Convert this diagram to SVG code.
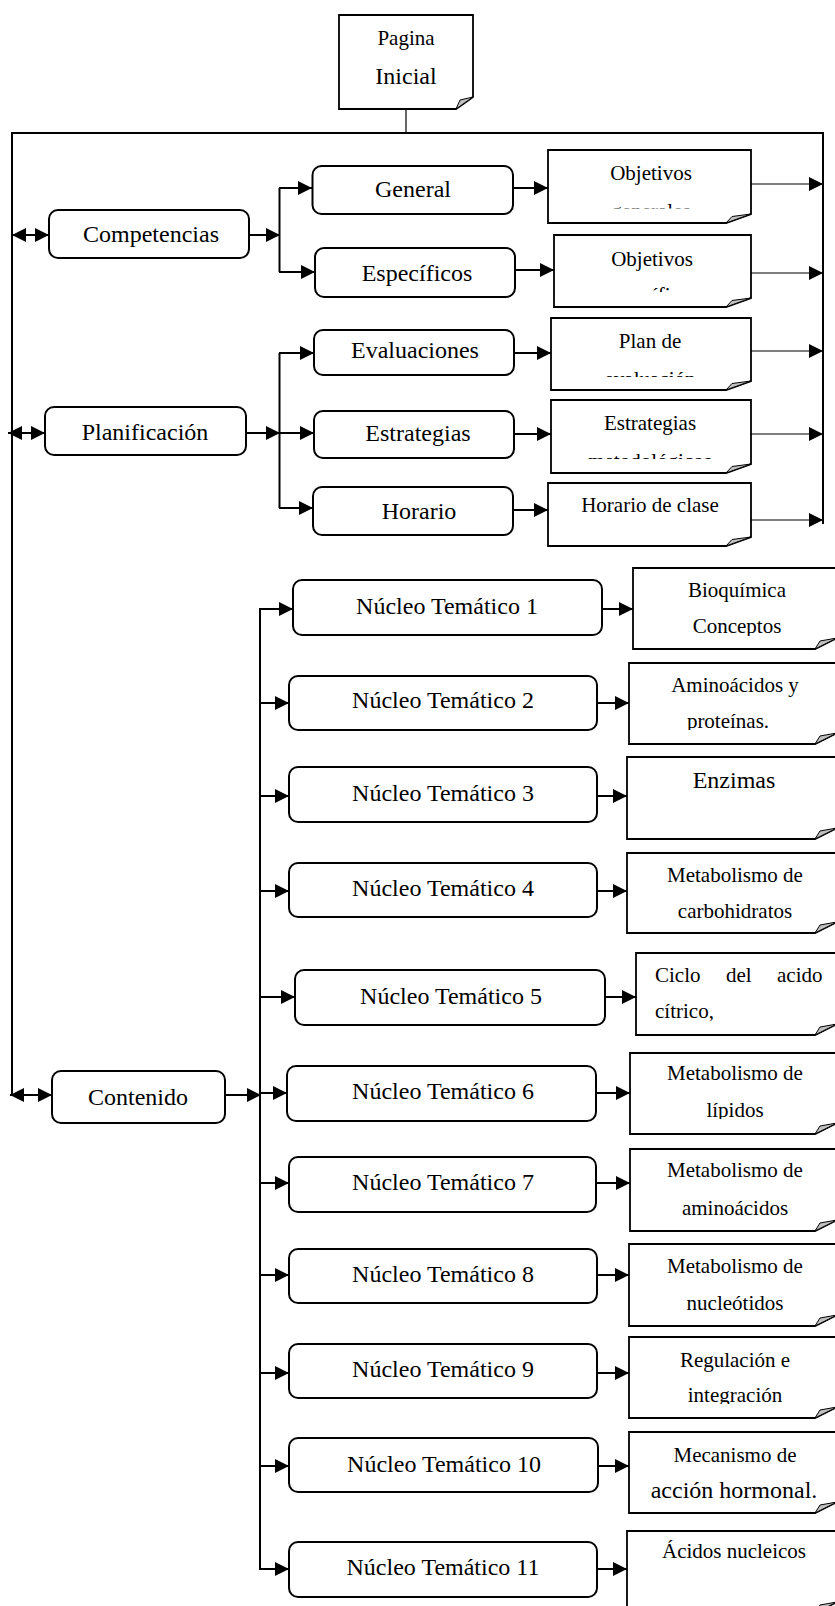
<svg xmlns="http://www.w3.org/2000/svg" width="835" height="1606" viewBox="0 0 835 1606">
<style>
.box{fill:#fff;stroke:#000;stroke-width:2}
.note{fill:#fff;stroke:#000;stroke-width:1.8;stroke-linejoin:miter}
.fold{fill:#c0c0c0;stroke:#000;stroke-width:1}
.ln{fill:none;stroke:#000;stroke-width:2}
.thin{fill:none;stroke:#000;stroke-width:1.2}
.arr{marker-end:url(#ah)}
.dbl{marker-start:url(#ahs);marker-end:url(#ah)}
text{font-family:"Liberation Serif","Times New Roman",serif;fill:#000;text-anchor:middle}
.t24{font-size:24px}
.t21{font-size:21px}
</style>
<defs>
<marker id="ah" viewBox="0 0 14 14" refX="14" refY="7" markerWidth="14" markerHeight="14" markerUnits="userSpaceOnUse" orient="auto"><path d="M0,0 L14,7 L0,14 Z" fill="#000"/></marker>
<marker id="ahs" viewBox="0 0 14 14" refX="14" refY="7" markerWidth="14" markerHeight="14" markerUnits="userSpaceOnUse" orient="auto-start-reverse"><path d="M0,0 L14,7 L0,14 Z" fill="#000"/></marker>
<clipPath id="cGen"><rect x="540" y="150" width="220" height="58.5"/></clipPath>
<clipPath id="cEsp"><rect x="540" y="235" width="220" height="57"/></clipPath>
<clipPath id="cEva"><rect x="540" y="318" width="220" height="59"/></clipPath>
<clipPath id="cMet"><rect x="540" y="400" width="220" height="59"/></clipPath>
<clipPath id="c1"><rect x="620" y="568" width="220" height="68"/></clipPath>
<clipPath id="c2"><rect x="620" y="663" width="220" height="67"/></clipPath>
<clipPath id="c5"><rect x="620" y="953" width="220" height="68"/></clipPath>
<clipPath id="c6"><rect x="620" y="1053" width="220" height="66"/></clipPath>
<clipPath id="c9"><rect x="620" y="1337" width="220" height="67"/></clipPath>
<clipPath id="c10"><rect x="620" y="1432" width="220" height="67.5"/></clipPath>
</defs>
<rect width="835" height="1606" fill="#fff"/>

<g id="connectors">
<path class="ln" d="M12,1095 V133 H823 V524"/>
<line class="thin" x1="406" y1="109" x2="406" y2="133"/>
<line class="ln dbl" x1="12" y1="235" x2="49" y2="235"/>
<line class="ln dbl" x1="8" y1="433" x2="45" y2="433"/>
<line class="ln dbl" x1="10" y1="1095" x2="52" y2="1095"/>
<line class="ln arr" x1="249" y1="235" x2="280" y2="235"/>
<line class="ln" x1="279.5" y1="188" x2="279.5" y2="272"/>
<line class="ln arr" x1="279" y1="188" x2="312" y2="188"/>
<line class="ln arr" x1="279" y1="272" x2="315" y2="272"/>
<line class="ln arr" x1="513" y1="188" x2="548" y2="188"/>
<line class="ln arr" x1="515" y1="270" x2="554" y2="270"/>
<line class="thin arr" x1="751" y1="184" x2="823" y2="184"/>
<line class="thin arr" x1="751" y1="273" x2="823" y2="273"/>
<line class="ln arr" x1="246" y1="433" x2="280" y2="433"/>
<line class="ln" x1="279.5" y1="353" x2="279.5" y2="508"/>
<line class="ln arr" x1="279" y1="353" x2="314" y2="353"/>
<line class="ln arr" x1="279" y1="433" x2="314" y2="433"/>
<line class="ln arr" x1="279" y1="508" x2="313" y2="508"/>
<line class="ln arr" x1="514" y1="353" x2="551" y2="353"/>
<line class="ln arr" x1="514" y1="434" x2="551" y2="434"/>
<line class="ln arr" x1="513" y1="510" x2="548" y2="510"/>
<line class="thin arr" x1="751" y1="351" x2="823" y2="351"/>
<line class="thin arr" x1="751" y1="434" x2="823" y2="434"/>
<line class="thin arr" x1="751" y1="520" x2="823" y2="520"/>
<line class="ln arr" x1="225" y1="1095" x2="261" y2="1095"/>
<line class="ln" x1="260" y1="609" x2="260" y2="1569"/>
<line class="ln arr" x1="259" y1="609" x2="293" y2="609"/>
<line class="ln arr" x1="259" y1="703" x2="289" y2="703"/>
<line class="ln arr" x1="259" y1="796" x2="289" y2="796"/>
<line class="ln arr" x1="259" y1="891" x2="289" y2="891"/>
<line class="ln arr" x1="259" y1="997" x2="295" y2="997"/>
<line class="ln arr" x1="259" y1="1093" x2="287" y2="1093"/>
<line class="ln arr" x1="259" y1="1183" x2="289" y2="1183"/>
<line class="ln arr" x1="259" y1="1275" x2="289" y2="1275"/>
<line class="ln arr" x1="259" y1="1373" x2="289" y2="1373"/>
<line class="ln arr" x1="259" y1="1466" x2="289" y2="1466"/>
<line class="ln arr" x1="259" y1="1569" x2="289" y2="1569"/>
<line class="ln arr" x1="602" y1="609" x2="633" y2="609"/>
<line class="ln arr" x1="597" y1="703" x2="629" y2="703"/>
<line class="ln arr" x1="597" y1="796" x2="627" y2="796"/>
<line class="ln arr" x1="597" y1="891" x2="627" y2="891"/>
<line class="ln arr" x1="605" y1="997" x2="636" y2="997"/>
<line class="ln arr" x1="596" y1="1093" x2="630" y2="1093"/>
<line class="ln arr" x1="596" y1="1183" x2="630" y2="1183"/>
<line class="ln arr" x1="597" y1="1275" x2="629" y2="1275"/>
<line class="ln arr" x1="597" y1="1373" x2="629" y2="1373"/>
<line class="ln arr" x1="598" y1="1466" x2="629" y2="1466"/>
<line class="ln arr" x1="597" y1="1569" x2="627" y2="1569"/>
</g>

<g id="node-pagina">
<path class="note" d="M339,15 H473 V97 L456,109 H339 Z"/>
<path class="fold" d="M456,109 L460,100 L473,97 Z"/>
<text class="t21" x="406" y="45">Pagina</text>
<text class="t24" x="406" y="84">Inicial</text>
</g>

<g id="node-competencias">
<rect class="box" x="49" y="210" width="200" height="48" rx="9"/>
<text class="t24" x="151" y="242">Competencias</text>
</g>
<g id="node-planificacion">
<rect class="box" x="45" y="407" width="201" height="48" rx="9"/>
<text class="t24" x="145" y="440">Planificación</text>
</g>
<g id="node-contenido">
<rect class="box" x="52" y="1071" width="173" height="52" rx="9"/>
<text class="t24" x="138" y="1105">Contenido</text>
</g>

<g id="node-general">
<rect class="box" x="312.5" y="166" width="200.5" height="48" rx="9"/>
<text class="t24" x="413" y="197">General</text>
</g>
<g id="node-especificos">
<rect class="box" x="315" y="248" width="200" height="49" rx="9"/>
<text class="t24" x="417" y="281">Específicos</text>
</g>
<g id="node-evaluaciones">
<rect class="box" x="314" y="330" width="200" height="45" rx="9"/>
<text class="t24" x="415" y="358">Evaluaciones</text>
</g>
<g id="node-estrategias">
<rect class="box" x="314" y="411" width="200" height="47" rx="9"/>
<text class="t24" x="418" y="441">Estrategias</text>
</g>
<g id="node-horario">
<rect class="box" x="313" y="487" width="200" height="48" rx="9"/>
<text class="t24" x="419" y="519">Horario</text>
</g>

<g id="note-obj-generales">
<path class="note" d="M548,150 H751 V214 L726,223 H548 Z"/>
<path class="fold" d="M726,223 L732,216.5 L751,214 Z"/>
<text class="t21" x="651" y="180">Objetivos</text>
<text class="t21" x="651" y="217.5" clip-path="url(#cGen)">generales</text>
</g>
<g id="note-obj-especificos">
<path class="note" d="M554,235 H751 V298 L726,307 H554 Z"/>
<path class="fold" d="M726,307 L732,300.5 L751,298 Z"/>
<text class="t21" x="652" y="266">Objetivos</text>
<text class="t21" x="652" y="302" clip-path="url(#cEsp)">específicos</text>
</g>
<g id="note-plan-evaluacion">
<path class="note" d="M551,318 H751 V381 L726,390 H551 Z"/>
<path class="fold" d="M726,390 L732,383.5 L751,381 Z"/>
<text class="t21" x="650" y="348">Plan de</text>
<text class="t21" x="650" y="386" clip-path="url(#cEva)">evaluación</text>
</g>
<g id="note-estrategias-met">
<path class="note" d="M551,400 H751 V464 L726,473 H551 Z"/>
<path class="fold" d="M726,473 L732,466.5 L751,464 Z"/>
<text class="t21" x="650" y="430">Estrategias</text>
<text class="t21" x="650" y="468" clip-path="url(#cMet)">metodológicos</text>
</g>
<g id="note-horario-clase">
<path class="note" d="M548,483 H751 V537 L726,546 H548 Z"/>
<path class="fold" d="M726,546 L732,539.5 L751,537 Z"/>
<text class="t21" x="650" y="512">Horario de clase</text>
</g>

<g id="node-nucleo-1">
<rect class="box" x="293" y="580" width="309" height="55" rx="9"/>
<text class="t24" x="447" y="614">Núcleo Temático 1</text>
</g>
<g id="note-1">
<path class="note" d="M633,568 H837 V638 L815,649 H633 Z"/>
<path class="fold" d="M815,649 L820,641 L837,638 Z"/>
<text class="t21" x="737" y="597">Bioquímica</text>
<text class="t21" x="737" y="633" clip-path="url(#c1)">Conceptos</text>
</g>

<g id="node-nucleo-2">
<rect class="box" x="289" y="676" width="308" height="54" rx="9"/>
<text class="t24" x="443" y="708">Núcleo Temático 2</text>
</g>
<g id="note-2">
<path class="note" d="M629,663 H837 V733 L815,744 H629 Z"/>
<path class="fold" d="M815,744 L820,736 L837,733 Z"/>
<text class="t21" x="735" y="692">Aminoácidos y</text>
<text class="t21" x="728" y="728" clip-path="url(#c2)">proteínas.</text>
</g>

<g id="node-nucleo-3">
<rect class="box" x="289" y="767" width="308" height="55" rx="9"/>
<text class="t24" x="443" y="801">Núcleo Temático 3</text>
</g>
<g id="note-3">
<path class="note" d="M627,757 H837 V828 L815,839 H627 Z"/>
<path class="fold" d="M815,839 L820,831 L837,828 Z"/>
<text class="t24" x="734" y="788">Enzimas</text>
</g>

<g id="node-nucleo-4">
<rect class="box" x="289" y="863" width="308" height="54" rx="9"/>
<text class="t24" x="443" y="896">Núcleo Temático 4</text>
</g>
<g id="note-4">
<path class="note" d="M627,853 H837 V922 L815,933 H627 Z"/>
<path class="fold" d="M815,933 L820,925 L837,922 Z"/>
<text class="t21" x="735" y="882">Metabolismo de</text>
<text class="t21" x="735" y="918">carbohidratos</text>
</g>

<g id="node-nucleo-5">
<rect class="box" x="295" y="970" width="310" height="55" rx="9"/>
<text class="t24" x="451" y="1004">Núcleo Temático 5</text>
</g>
<g id="note-5">
<path class="note" d="M636,953 H837 V1024 L815,1035 H636 Z"/>
<path class="fold" d="M815,1035 L820,1027 L837,1024 Z"/>
<text class="t21" y="982" style="text-anchor:start"><tspan x="655">Ciclo</tspan><tspan x="726">del</tspan><tspan x="777">acido</tspan></text>
<text class="t21" x="655" y="1018" style="text-anchor:start" clip-path="url(#c5)">cítrico,</text>
</g>

<g id="node-nucleo-6">
<rect class="box" x="287" y="1066" width="309" height="55" rx="9"/>
<text class="t24" x="443" y="1099">Núcleo Temático 6</text>
</g>
<g id="note-6">
<path class="note" d="M630,1053 H837 V1123 L815,1134 H630 Z"/>
<path class="fold" d="M815,1134 L820,1126 L837,1123 Z"/>
<text class="t21" x="735" y="1080">Metabolismo de</text>
<text class="t21" x="735" y="1117" clip-path="url(#c6)">lípidos</text>
</g>

<g id="node-nucleo-7">
<rect class="box" x="289" y="1157" width="307" height="55" rx="9"/>
<text class="t24" x="443" y="1190">Núcleo Temático 7</text>
</g>
<g id="note-7">
<path class="note" d="M630,1149 H837 V1220 L815,1231 H630 Z"/>
<path class="fold" d="M815,1231 L820,1223 L837,1220 Z"/>
<text class="t21" x="735" y="1177">Metabolismo de</text>
<text class="t21" x="735" y="1215">aminoácidos</text>
</g>

<g id="node-nucleo-8">
<rect class="box" x="289" y="1249" width="308" height="54" rx="9"/>
<text class="t24" x="443" y="1282">Núcleo Temático 8</text>
</g>
<g id="note-8">
<path class="note" d="M629,1244 H837 V1315 L815,1326 H629 Z"/>
<path class="fold" d="M815,1326 L820,1318 L837,1315 Z"/>
<text class="t21" x="735" y="1273">Metabolismo de</text>
<text class="t21" x="735" y="1310">nucleótidos</text>
</g>

<g id="node-nucleo-9">
<rect class="box" x="289" y="1344" width="308" height="54" rx="9"/>
<text class="t24" x="443" y="1377">Núcleo Temático 9</text>
</g>
<g id="note-9">
<path class="note" d="M629,1337 H837 V1407 L815,1418 H629 Z"/>
<path class="fold" d="M815,1418 L820,1410 L837,1407 Z"/>
<text class="t21" x="735" y="1367">Regulación e</text>
<text class="t21" x="735" y="1402" clip-path="url(#c9)">integración</text>
</g>

<g id="node-nucleo-10">
<rect class="box" x="289" y="1438" width="309" height="54" rx="9"/>
<text class="t24" x="444" y="1472">Núcleo Temático 10</text>
</g>
<g id="note-10">
<path class="note" d="M629,1432 H837 V1502 L815,1513 H629 Z"/>
<path class="fold" d="M815,1513 L820,1505 L837,1502 Z"/>
<text class="t21" x="735" y="1462">Mecanismo de</text>
<text class="t24" x="734" y="1498" clip-path="url(#c10)">acción hormonal.</text>
</g>

<g id="node-nucleo-11">
<rect class="box" x="289" y="1542" width="308" height="55" rx="9"/>
<text class="t24" x="443" y="1575">Núcleo Temático 11</text>
</g>
<g id="note-11">
<path class="note" d="M627,1531 H837 V1602 L815,1613 H627 Z"/>
<path class="fold" d="M815,1613 L820,1605 L837,1602 Z"/>
<text class="t21" x="734" y="1558">Ácidos nucleicos</text>
</g>
</svg>
